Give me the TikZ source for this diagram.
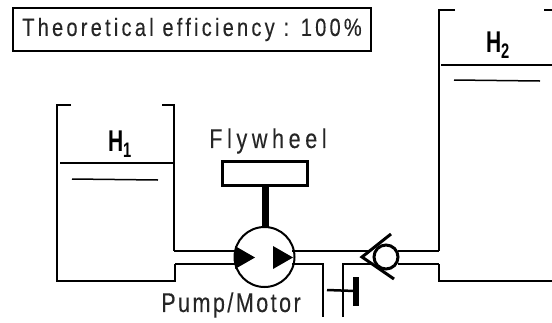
\documentclass[tikz,border=0pt]{standalone}
\usepackage{fontspec}
\setmainfont{Liberation Sans}
\newfontfamily\capfont[FakeStretch=0.8,LetterSpace=13,FakeBold=0.2]{Liberation Sans}
\newfontfamily\flyfont[FakeStretch=0.8,LetterSpace=17,FakeBold=0.2]{Liberation Sans}
\newfontfamily\pumpfont[FakeStretch=0.8,LetterSpace=9,FakeBold=0.2]{Liberation Sans}
\newfontfamily\tankfont[FakeStretch=0.7]{Liberation Sans}
\begin{document}
\begin{tikzpicture}[
	x=1pt, y=-1pt,
	every node/.style={inner sep=0pt, outer sep=0pt},
	wall/.style={draw, line width=2pt},
	pipe/.style={draw, line width=1.8pt},
	level/.style={draw, line width=1.5pt},
	thickbar/.style={draw, line width=6pt},
	captxt/.style={font=\capfont\fontsize{25}{28}\selectfont, text=black!85},
	flytxt/.style={font=\flyfont\fontsize{27}{30}\selectfont, text=black!85},
	pumptxt/.style={font=\pumpfont\fontsize{27}{30}\selectfont, text=black!85},
	tanklabel/.style={font=\tankfont\fontsize{30}{32}\selectfont\bfseries},
	tip/.style={fill=black},
	]
	\useasboundingbox (0,0) rectangle (552,322);
	% --- caption ---
	\node[draw, line width=1.5pt, minimum width=358pt, minimum height=43pt,
	anchor=north west, captxt] (eff) at (13,8) {Theoretical efficiency : 100\%};

	% --- lower tank ---
	\draw[wall] (71,105) -- (57,105) -- (57,281) -- (175,281) -- (175,264);
	\draw[wall] (162,105) -- (174,105) -- (174,251);
	\draw[level] (60,163) -- (173,163);
	\draw[level] (72,179) -- (158,180);
	\node[tanklabel] (h1) at (120,144) {H\textsubscript{1}};

	% --- upper tank ---
	\draw[wall] (455,10) -- (439,10) -- (439,251);
	\draw[wall] (544,10) -- (552,10);
	\draw[wall] (439,264) -- (439,281) -- (552,281);
	\draw[level] (441,65) -- (552,65);
	\draw[level] (454,80) -- (540,81);
	\node[tanklabel] (h2) at (498,45) {H\textsubscript{2}};

	% --- pump and flywheel ---
	\node[draw, circle, line width=2pt, fill=white, minimum size=60pt] (pump) at (264.5,257) {};
	\node[draw, line width=3pt, minimum width=85pt, minimum height=24pt] (fly) at (264.5,173) {};
	\node[flytxt] (flylabel) at (268,141) {Flywheel};
	\node[pumptxt] (pumplabel) at (231,305) {Pump/Motor};
	\draw[line width=7pt] ([xshift=1pt]fly.south) -- ([xshift=1pt]pump.north);
	\fill[tip] (235,246) -- (255,257.5) -- (235,269) -- cycle;
	\fill[tip] (273,246) -- (293,257.5) -- (273,269) -- cycle;

	% --- pipes ---
	\draw[pipe] (174,251) -- (pump.west |- 174,251);
	\draw[pipe] (175,264) -- (pump.west |- 175,264);
	\draw[pipe] (292,251) -- (368,251);
	\draw[pipe] (292,264) -- (323,264) -- (323,317);
	\draw[pipe] (343,317) -- (343,264) -- (372,264);
	\draw[pipe] (398,251) -- (439,251);
	\draw[pipe] (398,264) -- (439,264);

	% --- check valve ---
	\node[draw, circle, line width=3pt, fill=white, minimum size=24pt] (check) at (386,257) {};
	\draw[line width=3pt, miter limit=10] (391,234) -- (362,257) -- (394,279);

	% --- stop valve ---
	\draw[line width=2.5pt] (327,290) -- (355,291);
	\draw[thickbar] (355.5,277) -- (355.5,306);
\end{tikzpicture}
\end{document}
